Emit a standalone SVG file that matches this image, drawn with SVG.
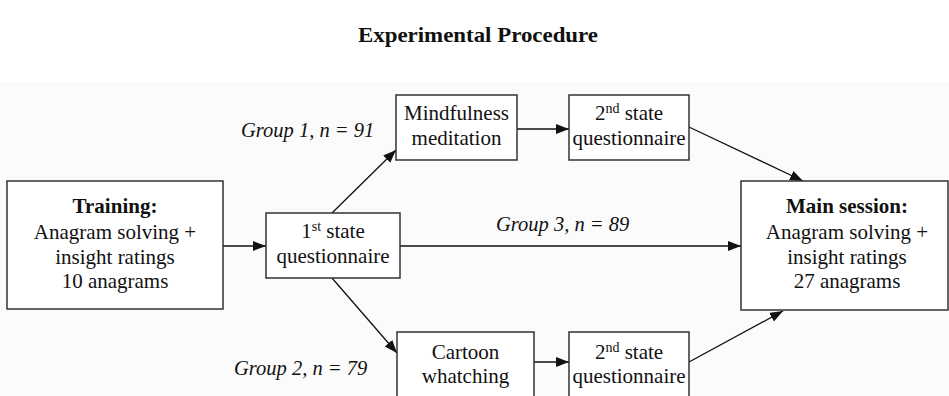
<svg xmlns="http://www.w3.org/2000/svg" width="949" height="396" viewBox="0 0 949 396">
<style>
.box{fill:#ffffff;stroke:#333333;stroke-width:1.5}
.t{font-family:"Liberation Serif","Times New Roman",serif;font-size:21px;fill:#111111;text-anchor:middle}
.b{font-weight:bold}
.g{font-family:"Liberation Serif","Times New Roman",serif;font-size:20.5px;font-style:italic;fill:#111111}
.c{stroke:#111111;stroke-width:1.3;fill:none;marker-end:url(#ah)}
</style>
<defs>
<marker id="ah" markerUnits="userSpaceOnUse" markerWidth="14" markerHeight="12" refX="13" refY="5" orient="auto">
<path d="M0,0 L13,5 L0,10 Z" fill="#111111"/>
</marker>
</defs>
<rect x="0" y="0" width="949" height="396" fill="#ffffff"/>
<rect x="0" y="82" width="949" height="314" fill="#fbfbfb"/>
<text x="478" y="42" class="t b" font-size="21" textLength="240" lengthAdjust="spacingAndGlyphs">Experimental Procedure</text>

<g id="connectors">
<line class="c" x1="223" y1="246" x2="266" y2="246"/>
<line class="c" x1="332" y1="213" x2="396" y2="150"/>
<line class="c" x1="332" y1="278" x2="397" y2="353"/>
<line class="c" x1="400" y1="246" x2="741" y2="246"/>
<line class="c" x1="517" y1="129" x2="569" y2="129"/>
<line class="c" x1="534" y1="362" x2="569" y2="362"/>
<line class="c" x1="689" y1="127" x2="803" y2="181"/>
<line class="c" x1="689" y1="362" x2="783" y2="311"/>
</g>

<g id="training">
<rect class="box" x="7" y="181" width="216" height="128"/>
<text class="t b" x="115" y="213">Training:</text>
<text class="t" x="115" y="239">Anagram solving +</text>
<text class="t" x="115" y="264">insight ratings</text>
<text class="t" x="115" y="288">10 anagrams</text>
</g>

<g id="state1">
<rect class="box" x="266" y="213" width="134" height="65"/>
<text class="t" x="333" y="238">1<tspan font-size="14" dy="-7">st</tspan><tspan dy="7"> state</tspan></text>
<text class="t" x="333" y="263">questionnaire</text>
</g>

<g id="mindfulness">
<rect class="box" x="396" y="95" width="121" height="65"/>
<text class="t" x="456.5" y="120">Mindfulness</text>
<text class="t" x="456.5" y="145">meditation</text>
</g>

<g id="state2a">
<rect class="box" x="569" y="95" width="120" height="65"/>
<text class="t" x="629" y="120">2<tspan font-size="14" dy="-7">nd</tspan><tspan dy="7"> state</tspan></text>
<text class="t" x="629" y="145">questionnaire</text>
</g>

<g id="cartoon">
<rect class="box" x="397" y="332" width="137" height="66"/>
<text class="t" x="465.5" y="359">Cartoon</text>
<text class="t" x="465.5" y="383">whatching</text>
</g>

<g id="state2b">
<rect class="box" x="569" y="332" width="120" height="66"/>
<text class="t" x="629" y="359">2<tspan font-size="14" dy="-7">nd</tspan><tspan dy="7"> state</tspan></text>
<text class="t" x="629" y="383">questionnaire</text>
</g>

<g id="main">
<rect class="box" x="741" y="181" width="207" height="129"/>
<text class="t b" x="847" y="213">Main session:</text>
<text class="t" x="847" y="239">Anagram solving +</text>
<text class="t" x="847" y="264">insight ratings</text>
<text class="t" x="847" y="288">27 anagrams</text>
</g>

<g id="labels">
<text class="g" x="241" y="137">Group 1, n = 91</text>
<text class="g" x="496" y="231">Group 3, n = 89</text>
<text class="g" x="234" y="375">Group 2, n = 79</text>
</g>
</svg>
